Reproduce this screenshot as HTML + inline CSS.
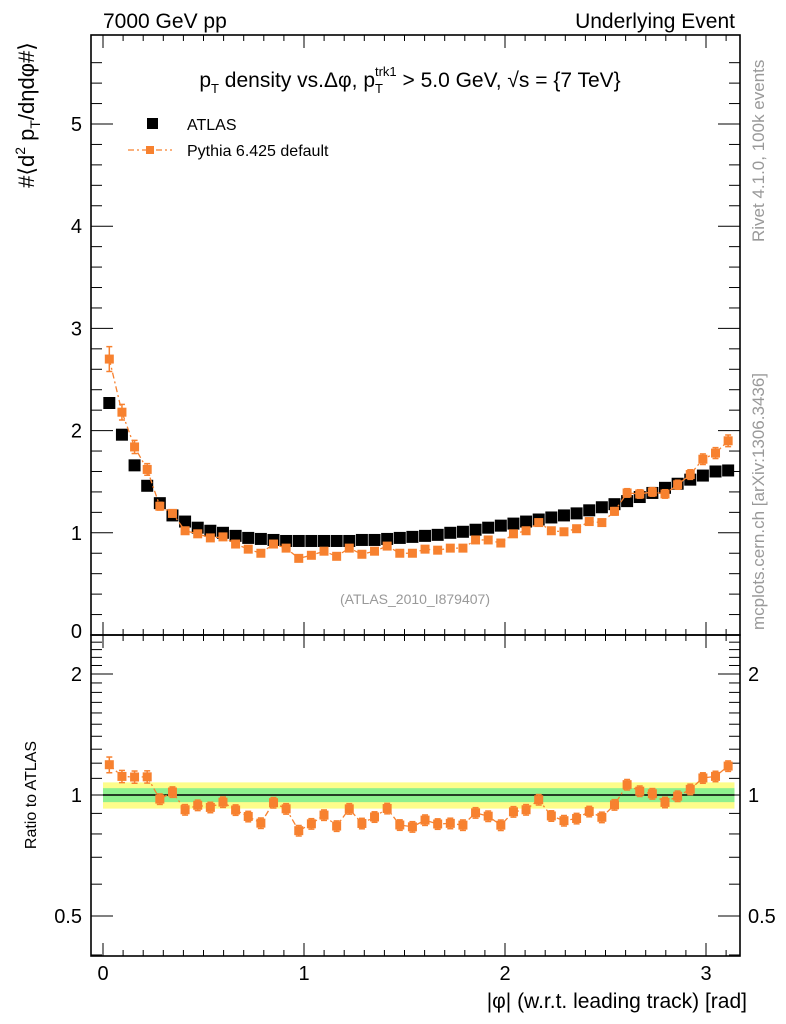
<!DOCTYPE html>
<html><head><meta charset="utf-8"><style>
body{margin:0;background:#fff;}
svg{display:block;font-family:"Liberation Sans",sans-serif;}
</style></head><body>
<svg id="chart" width="786" height="1024" viewBox="0 0 786 1024" xmlns="http://www.w3.org/2000/svg">
<text x="103" y="28" font-size="21">7000 GeV pp</text>
<text x="735" y="28" font-size="21" text-anchor="end">Underlying Event</text>
<text x="410" y="87" font-size="21" text-anchor="middle">p<tspan font-size="13" dy="6">T</tspan><tspan dy="-6"> density vs.Δφ, p</tspan><tspan font-size="13" dy="6">T</tspan><tspan font-size="13" dx="-8" dy="-17">trk1</tspan><tspan dy="11"> &gt; 5.0 GeV, √s = {7 TeV}</tspan></text>
<text transform="translate(34,115) rotate(-90)" font-size="22" text-anchor="middle">#⟨d<tspan font-size="14" dy="-9">2</tspan><tspan dy="9"> p</tspan><tspan font-size="14" dy="6">T</tspan><tspan dy="-6">/dηdφ#⟩</tspan></text>
<text transform="translate(36,795) rotate(-90)" font-size="16" text-anchor="middle">Ratio to ATLAS</text>
<text x="747" y="1008" font-size="21" text-anchor="end">|φ| (w.r.t. leading track) [rad]</text>
<text transform="translate(764,242) rotate(-90)" font-size="17" fill="#999">Rivet 4.1.0,  100k events</text>
<text transform="translate(764,630) rotate(-90)" font-size="17" fill="#999">mcplots.cern.ch [arXiv:1306.3436]</text>
<text x="415" y="604" font-size="14" fill="#999" text-anchor="middle">(ATLAS_2010_I879407)</text>
<g>
<rect x="147" y="118" width="11" height="11" fill="#000"/>
<text x="187" y="130" font-size="16">ATLAS</text>
<line x1="128" y1="150" x2="172" y2="150" stroke="#f7812f" stroke-width="1.3" stroke-dasharray="6,3,2,3"/>
<rect x="146" y="146" width="8" height="8" fill="#f7812f"/>
<text x="187" y="156" font-size="16">Pythia 6.425 default</text>
</g>
<g id="bands"></g><g id="axes"></g><g id="marks"></g>
</svg>
<script>
const atlasValues=[2.27,1.96,1.66,1.46,1.29,1.17,1.11,1.05,1.02,1.00,0.97,0.95,0.94,0.93,0.92,0.92,0.92,0.92,0.92,0.92,0.93,0.93,0.94,0.95,0.96,0.97,0.98,1.00,1.01,1.03,1.05,1.07,1.09,1.11,1.13,1.15,1.17,1.19,1.22,1.25,1.28,1.31,1.35,1.39,1.44,1.48,1.52,1.56,1.60,1.61];
const pythiaValues=[2.70,2.18,1.84,1.62,1.26,1.19,1.02,0.99,0.95,0.96,0.89,0.84,0.80,0.89,0.85,0.75,0.78,0.82,0.77,0.85,0.79,0.82,0.87,0.80,0.80,0.84,0.83,0.85,0.85,0.93,0.93,0.90,0.99,1.02,1.10,1.02,1.01,1.04,1.11,1.10,1.21,1.39,1.38,1.40,1.38,1.47,1.57,1.72,1.78,1.90];
const pythiaRelErr=[0.045,0.035,0.035,0.035,0.03,0.03,0.03,0.03,0.03,0.03,0.03,0.03,0.03,0.03,0.03,0.03,0.03,0.03,0.03,0.03,0.03,0.03,0.03,0.03,0.03,0.03,0.03,0.03,0.03,0.03,0.03,0.03,0.03,0.03,0.03,0.03,0.03,0.03,0.03,0.03,0.03,0.03,0.03,0.03,0.03,0.03,0.03,0.03,0.03,0.03];
const xTicks=[0,1,2,3];
const mainYTicks=[0,1,2,3,4,5];
const ratioYTicks=[0.5,1,2];
const bandGreen=0.04, bandYellow=0.075;
const xMax=Math.PI, nBins=atlasValues.length;

const NS="http://www.w3.org/2000/svg";
const L=91,R=740,T=35,MB=635,RB=956;
const X=v=>103+v*201;
const Y=v=>635-v*102.2;
const YR=r=>795-Math.log2(r)*121;
function el(tag,attrs,parent){const e=document.createElementNS(NS,tag);for(const k in attrs)e.setAttribute(k,attrs[k]);parent.appendChild(e);return e;}
const axes=document.getElementById('axes'),marks=document.getElementById('marks'),bands=document.getElementById('bands');

let b1=el('rect',{x:X(0),y:YR(1+bandYellow),width:X(xMax)-X(0),height:YR(1-bandYellow)-YR(1+bandYellow),fill:'#fdfd8a'},bands);


let b2=el('rect',{x:X(0),y:YR(1+bandGreen),width:X(xMax)-X(0),height:YR(1-bandGreen)-YR(1+bandGreen),fill:'#8ef08e'},bands);



let f1=el('rect',{x:L,y:T,width:R-L,height:MB-T,fill:'none',stroke:'#000','stroke-width':1.6},axes);


let f2=el('rect',{x:L,y:MB,width:R-L,height:RB-MB,fill:'none',stroke:'#000','stroke-width':1.6},axes);



for(let i=0;i<=31;i++){const v=i/10,x=X(v),maj=i%10===0,len=maj?13:6;
 for(const [top,bot] of [[T,MB],[MB,RB]]){
  el('line',{x1:x,y1:top,x2:x,y2:top+len,stroke:'#000','stroke-width':1},axes);
  el('line',{x1:x,y1:bot,x2:x,y2:bot-len,stroke:'#000','stroke-width':1},axes);
 }}
xTicks.forEach(v=>{const t=el('text',{x:X(v),y:980,'font-size':20,'text-anchor':'middle'},axes);t.textContent=v;
 
 });
for(let i=0;i<=28;i++){const v=i/5,y=Y(v);if(y<T)continue;const maj=i%5===0,len=maj?22:11;
 el('line',{x1:L,y1:y,x2:L+len,y2:y,stroke:'#000','stroke-width':1},axes);
 el('line',{x1:R,y1:y,x2:R-len,y2:y,stroke:'#000','stroke-width':1},axes);}
mainYTicks.forEach(v=>{const t=el('text',{x:82,y:Y(v)+(v===0?3:7),'font-size':20,'text-anchor':'end'},axes);t.textContent=v;
 
 });
[0.4,0.5,0.6,0.7,0.8,0.9,1,1.1,1.2,1.3,1.4,1.5,1.6,1.7,1.8,1.9,2,2.1,2.2,2.3,2.4].forEach(v=>{const y=YR(v);if(y>RB||y<MB)return;
 const maj=ratioYTicks.includes(v),len=maj?22:11;
 el('line',{x1:L,y1:y,x2:L+len,y2:y,stroke:'#000','stroke-width':1},axes);
 el('line',{x1:R,y1:y,x2:R-len,y2:y,stroke:'#000','stroke-width':1},axes);});
ratioYTicks.forEach(v=>{const y=YR(v)+7;
 const t=el('text',{x:82,y:y,'font-size':20,'text-anchor':'end'},axes);t.textContent=v;
 
 
 const t2=el('text',{x:748,y:y,'font-size':20},axes);t2.textContent=v;
 
 });
let ref=el('line',{x1:X(0),y1:YR(1),x2:X(xMax),y2:YR(1),stroke:'#000','stroke-width':1.5},marks);



const OR='#f7812f',bw=xMax/nBins;
const cx=i=>X((i+0.5)*bw);
atlasValues.forEach((v,i)=>{const r=el('rect',{x:cx(i)-6,y:Y(v)-6,width:12,height:12,fill:'#000'},marks);
 
 });
let pm=pythiaValues.map((v,i)=>cx(i)+','+Y(v)).join(' ');
let pl=el('polyline',{points:pm,fill:'none',stroke:OR,'stroke-width':1.3,'stroke-dasharray':'6,3,2,3'},marks);


let rm=pythiaValues.map((v,i)=>cx(i)+','+YR(v/atlasValues[i])).join(' ');
let rl=el('polyline',{points:rm,fill:'none',stroke:OR,'stroke-width':1.3,'stroke-dasharray':'6,3,2,3'},marks);


function errPt(x,yc,ylo,yhi,name){
 const g=el('g',{},marks);
 
 
 el('line',{x1:x,y1:ylo,x2:x,y2:yhi,stroke:OR,'stroke-width':1.5},g);
 el('line',{x1:x-3,y1:ylo,x2:x+3,y2:ylo,stroke:OR,'stroke-width':1.5},g);
 el('line',{x1:x-3,y1:yhi,x2:x+3,y2:yhi,stroke:OR,'stroke-width':1.5},g);
 el('rect',{x:x-4.5,y:yc-4.5,width:9,height:9,fill:OR},g);}
pythiaValues.forEach((v,i)=>{const e=v*pythiaRelErr[i],x=cx(i);
 errPt(x,Y(v),Y(v-e),Y(v+e),'pythia-point');
 const r=v/atlasValues[i];
 errPt(x,YR(r),YR(r*(1-pythiaRelErr[i])),YR(r*(1+pythiaRelErr[i])),'ratio-point');});
</script>
</body></html>
